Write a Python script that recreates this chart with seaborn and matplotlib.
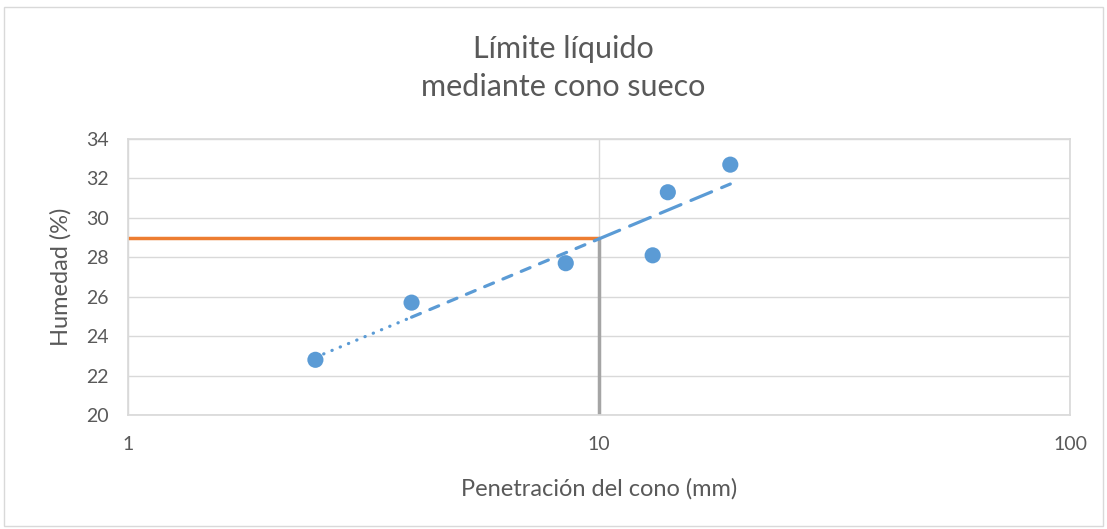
import numpy as np
import pandas as pd
import matplotlib
matplotlib.use("Agg")
import matplotlib.pyplot as plt
import seaborn as sns

# --- Data ---
penetracion = [2.5, 4.0, 8.5, 13.0, 14.0, 19.0]   # mm
humedad = [22.8, 25.7, 27.7, 28.1, 31.3, 32.7]    # %
limite_liquido = 29.0
pen_ref = 10.0
# where the trendline changes its dash style
tramos = [2.5, 4.0, 10.0, 19.0]

df = pd.DataFrame({"pen": penetracion, "hum": humedad})

sns.set_theme(style="white")
plt.rcParams["font.family"] = ["Lato", "DejaVu Sans"]
txt = "#595959"
blue = "#5B9BD5"

fig = plt.figure(figsize=(11.07, 5.29), dpi=100)
ax = fig.add_axes([0.1156, 0.2155, 0.851, 0.5217])

# log fit, like Excel's logarithmic trendline
b, a = np.polyfit(np.log10(df["pen"]), df["hum"], 1)
estilos = [(0, (0.1, 2.7)), (0, (3.0, 3.2)), (0, (7.0, 3.4))]
for (x0, x1), ls in zip(zip(tramos[:-1], tramos[1:]), estilos):
    xs = np.logspace(np.log10(x0), np.log10(x1), 50)
    ax.plot(xs, a + b * np.log10(xs), color=blue, lw=2.3, ls=ls,
            dash_capstyle="round", solid_capstyle="round", zorder=3)

# reference lines at 10 mm
ax.plot([1, pen_ref], [limite_liquido, limite_liquido], color="#ED7D31", lw=2.5, zorder=2)
ax.plot([pen_ref, pen_ref], [20, limite_liquido], color="#A5A5A5", lw=2.5, zorder=2)

sns.scatterplot(data=df, x="pen", y="hum", ax=ax, color=blue, s=135,
                edgecolor="none", zorder=4)

ax.set_xscale("log")
ax.set_xlim(1, 100)
ax.set_ylim(20, 34)
ax.set_xticks([1, 10, 100])
ax.set_xticklabels(["1", "10", "100"])
ax.set_yticks(range(20, 35, 2))
ax.minorticks_off()
ax.grid(True, color="#D9D9D9", lw=1.0)
ax.set_axisbelow(True)
for s in ax.spines.values():
    s.set_color("#D9D9D9")
ax.tick_params(axis="x", length=0, pad=15, labelsize=14, labelcolor=txt)
ax.tick_params(axis="y", length=0, pad=14, labelsize=14, labelcolor=txt)

ax.set_xlabel("Penetración del cono (mm)", fontsize=17, color=txt, labelpad=18)
ax.set_ylabel("Humedad (%)", fontsize=17, color=txt, labelpad=10)
fig.text(0.5086, 0.872, "Límite líquido\nmediante cono sueco", ha="center", va="center",
         fontsize=22, color=txt, linespacing=1.45)

# chart area border
fig.patches.append(plt.Rectangle((0.004, 0.006), 0.992, 0.98, transform=fig.transFigure,
                                 fill=False, edgecolor="#D9D9D9", lw=1.0))

fig.savefig("out.png", dpi=100, facecolor="white")
